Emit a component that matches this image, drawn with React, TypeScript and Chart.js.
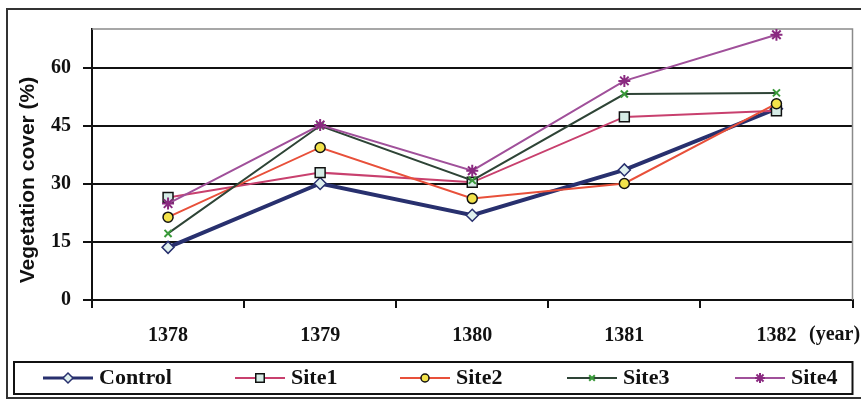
import React, { useEffect, useRef } from 'react';
import { Chart, registerables } from 'chart.js';
import { drawPoint } from 'chart.js/helpers';

Chart.register(...registerables);

const years = ['1378', '1379', '1380', '1381', '1382'];
const control = [13.6, 30.1, 21.9, 33.6, 49.4];
const site1 = [26.5, 32.9, 30.4, 47.3, 48.9];
const site2 = [21.4, 39.4, 26.2, 30.1, 50.7];
const site3 = [17.2, 45.0, 30.9, 53.2, 53.5];
const site4 = [24.9, 45.2, 33.4, 56.6, 68.5];
const seriesNames = ['Control', 'Site1', 'Site2', 'Site3', 'Site4'];
const yTicks = [0, 15, 30, 45, 60];
const yMin = 0;
const yMax = 70;
const yTitle = 'Vegetation cover (%)';
const xUnit = '(year)';

const seriesValues = [control, site1, site2, site3, site4];

const styles = [
  { line: '#28306e', width: 4, point: 'rectRot', r: 6, fill: '#dff0ee', border: '#28306e', bw: 1.5 },
  { line: '#c8406e', width: 2, point: 'rect', r: 7, fill: '#d6ece6', border: '#111', bw: 1.5 },
  { line: '#e8503a', width: 2, point: 'circle', r: 5, fill: '#f2e24a', border: '#111', bw: 1.5 },
  { line: '#2e4436', width: 2, point: 'crossRot', r: 5, fill: '#3a9a3a', border: '#3a9a3a', bw: 2 },
  { line: '#a0509a', width: 2, point: 'star', r: 6, fill: '#8a2a80', border: '#8a2a80', bw: 2 },
];

const legendStarts = [43, 235, 400, 567, 735];
const serif = '"Liberation Serif", "Times New Roman", serif';
const sans = '"Liberation Sans", Arial, sans-serif';

const decorPlugin = {
  id: 'decor',
  beforeDatasetsDraw(chart: any) {
    const { ctx, chartArea } = chart;
    ctx.save();
    ctx.strokeStyle = '#8a8a8a';
    ctx.lineWidth = 1.5;
    ctx.beginPath();
    ctx.moveTo(chartArea.left, chartArea.top);
    ctx.lineTo(chartArea.right, chartArea.top);
    ctx.lineTo(chartArea.right, chartArea.bottom);
    ctx.stroke();
    ctx.restore();
  },
  afterDraw(chart: any) {
    const { ctx, chartArea } = chart;
    ctx.save();
    // outer frame
    ctx.strokeStyle = '#333';
    ctx.lineWidth = 2;
    ctx.strokeRect(7, 9, 870, 389);
    // y title
    ctx.save();
    ctx.translate(28, 180);
    ctx.rotate(-Math.PI / 2);
    ctx.font = 'bold 21px ' + sans;
    ctx.fillStyle = '#111';
    ctx.textAlign = 'center';
    ctx.textBaseline = 'middle';
    ctx.fillText(yTitle, 0, 0);
    ctx.restore();
    // (year)
    ctx.font = 'bold 20px ' + serif;
    ctx.fillStyle = '#111';
    ctx.textAlign = 'left';
    ctx.textBaseline = 'middle';
    ctx.fillText(xUnit, 809, 335);
    // legend box
    ctx.strokeStyle = '#111';
    ctx.lineWidth = 2;
    ctx.strokeRect(14, 362, chartArea.right - 14, 32);
    const ly = 378;
    seriesNames.forEach((name, i) => {
      const s = styles[i];
      const x0 = legendStarts[i];
      ctx.strokeStyle = s.line;
      ctx.lineWidth = i === 0 ? 3 : 2;
      ctx.beginPath();
      ctx.moveTo(x0, ly);
      ctx.lineTo(x0 + 50, ly);
      ctx.stroke();
      ctx.fillStyle = s.fill;
      ctx.strokeStyle = s.border;
      ctx.lineWidth = s.bw;
      drawPoint(ctx, { pointStyle: s.point as any, radius: s.r - 1, borderWidth: s.bw, rotation: 0 } as any, x0 + 25, ly);
      ctx.font = 'bold 22px ' + serif;
      ctx.fillStyle = '#111';
      ctx.textAlign = 'left';
      ctx.textBaseline = 'middle';
      ctx.fillText(name, x0 + 56, ly);
    });
    ctx.restore();
  },
};

export default function App() {
  const canvasRef = useRef<HTMLCanvasElement | null>(null);

  useEffect(() => {
    document.body.style.margin = '0';
    const canvas = canvasRef.current;
    if (!canvas) return;
    const chart = new Chart(canvas, {
      type: 'line',
      data: {
        labels: years,
        datasets: seriesNames.map((name, i) => ({
          label: name,
          data: seriesValues[i],
          borderColor: styles[i].line,
          borderWidth: styles[i].width,
          backgroundColor: styles[i].fill,
          pointStyle: styles[i].point as any,
          pointRadius: styles[i].r,
          pointBackgroundColor: styles[i].fill,
          pointBorderColor: styles[i].border,
          pointBorderWidth: styles[i].bw,
          tension: 0,
          fill: false,
          order: 4 - i,
        })),
      },
      options: {
        animation: false,
        responsive: true,
        maintainAspectRatio: false,
        layout: { padding: { top: 29, right: 4, left: 0, bottom: 0 } },
        plugins: { legend: { display: false }, tooltip: { enabled: false } },
        scales: {
          x: {
            type: 'category',
            offset: true,
            grid: { offset: true, drawOnChartArea: false, tickLength: 8, color: '#111', lineWidth: 2 },
            border: { color: '#111', width: 2 },
            ticks: { font: { family: serif, size: 20, weight: 'bold' }, color: '#111', padding: 16, maxRotation: 0 },
            afterFit: (s: any) => { s.height = 100; },
          },
          y: {
            min: yMin,
            max: yMax,
            afterBuildTicks: (s: any) => { s.ticks = yTicks.map((v) => ({ value: v })); },
            grid: { color: '#111', lineWidth: 2, tickLength: 9 },
            border: { color: '#111', width: 2 },
            ticks: { font: { family: serif, size: 20, weight: 'bold' }, color: '#111', padding: 12 },
            afterFit: (s: any) => { s.width = 92; },
          },
        },
      },
      plugins: [decorPlugin],
    });
    return () => chart.destroy();
  }, []);

  return (
    <div style={{ width: 861, height: 400, position: 'relative' }}>
      <canvas ref={canvasRef} />
    </div>
  );
}
